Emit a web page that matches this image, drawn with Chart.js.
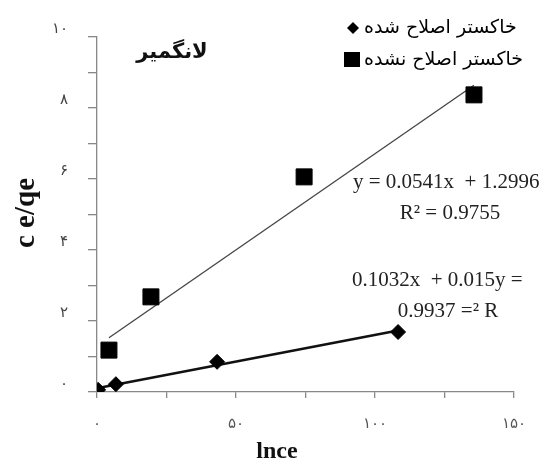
<!DOCTYPE html>
<html>
<head>
<meta charset="utf-8">
<script src="https://cdn.jsdelivr.net/npm/chart.js@4.4.0/dist/chart.umd.min.js"></script>
<style>
html, body { margin: 0; padding: 0; background: #fff; }
#wrap { width: 560px; height: 465px; position: relative; }
</style>
</head>
<body>
<div id="wrap"><canvas id="chart"></canvas></div>
<script>
// داده‌های نمودار
const legendLabels = ['خاکستر اصلاح شده', 'خاکستر اصلاح نشده'];
const modifiedX = [0.4, 6.8, 43.2, 108.3];
const modifiedY = [0.06, 0.22, 0.85, 1.69];
const unmodifiedX = [4.3, 19.4, 74.5, 135.6];
const unmodifiedY = [1.18, 2.68, 6.06, 8.37];

// دو سر خط روند، خوانده شده از تصویر
const modifiedTrendX = [0.4, 108.3];
const modifiedTrendY = [0.11, 1.73];
const unmodifiedTrendX = [4.3, 135.6];
const unmodifiedTrendY = [1.53, 8.64];

const yTickLabels = ['٠', '', '٢', '', '۴', '', '۶', '', '٨', '', '١٠'];
const xTickLabels = ['٠', '', '۵٠', '', '١٠٠', '', '١۵٠'];

const chartTitle = 'لانگمیر';
const xTitle = 'lnce';
const yTitle = 'c e/qe';
const eqUnmodified = ['y = 0.0541x  + 1.2996', 'R² = 0.9755'];
const eqModified = ['0.1032x  + 0.015y =', '0.9937 =² R'];

function toPoints(xs, ys) {
    return xs.map((x, i) => ({ x: x, y: ys[i] }));
}

// رسم عنوان‌ها، معادله‌ها و راهنما روی بوم
const textPlugin = {
    id: 'texts',
    afterDraw(chart) {
        const ctx = chart.ctx;
        ctx.save();
        ctx.fillStyle = '#111';
        ctx.textBaseline = 'middle';

        // عنوان
        ctx.font = 'bold 21px "DejaVu Sans"';
        ctx.textAlign = 'center';
        ctx.fillText(chartTitle, 172, 53);

        // عنوان محور x
        ctx.font = 'bold 24px "Liberation Serif"';
        ctx.fillText(xTitle, 277, 452);

        // عنوان محور y
        ctx.save();
        ctx.translate(27, 213);
        ctx.rotate(-Math.PI / 2);
        ctx.font = 'bold 29px "Liberation Serif"';
        ctx.fillText(yTitle, 0, 0);
        ctx.restore();

        // معادله‌ها
        ctx.font = '21px "Liberation Serif"';
        ctx.fillStyle = '#222';
        ctx.textAlign = 'left';
        ctx.fillText(eqUnmodified[0], 353, 182);
        ctx.textAlign = 'center';
        ctx.fillText(eqUnmodified[1], 450, 213);
        ctx.textAlign = 'left';
        ctx.fillText(eqModified[0], 352, 280);
        ctx.textAlign = 'center';
        ctx.fillText(eqModified[1], 448, 311);

        // راهنما
        ctx.fillStyle = '#000';
        ctx.beginPath();
        ctx.moveTo(353, 22);
        ctx.lineTo(359, 28);
        ctx.lineTo(353, 34);
        ctx.lineTo(347, 28);
        ctx.closePath();
        ctx.fill();
        ctx.fillRect(344, 52, 16, 15);

        ctx.font = '19px "DejaVu Sans"';
        ctx.textAlign = 'left';
        ctx.fillText(legendLabels[0], 364, 28);
        ctx.fillText(legendLabels[1], 364, 60);
        ctx.restore();
    }
};

const ctx = document.getElementById('chart').getContext('2d');
const chart = new Chart(ctx, {
    type: 'scatter',
    data: {
        datasets: [
            {
                label: legendLabels[0],
                data: toPoints(modifiedX, modifiedY),
                pointStyle: 'rectRot',
                pointRadius: 7.5,
                backgroundColor: '#000',
                borderColor: '#000',
                borderWidth: 1,
                order: 0
            },
            {
                label: legendLabels[1],
                data: toPoints(unmodifiedX, unmodifiedY),
                pointStyle: 'rect',
                pointRadius: 11.3,
                backgroundColor: '#000',
                borderColor: '#000',
                borderWidth: 1,
                order: 0
            },
            {
                label: 'trend1',
                type: 'line',
                data: toPoints(modifiedTrendX, modifiedTrendY),
                borderColor: '#111',
                borderWidth: 2.5,
                pointRadius: 0,
                fill: false,
                order: 1
            },
            {
                label: 'trend2',
                type: 'line',
                data: toPoints(unmodifiedTrendX, unmodifiedTrendY),
                borderColor: '#444',
                borderWidth: 1.3,
                pointRadius: 0,
                fill: false,
                order: 1
            }
        ]
    },
    options: {
        responsive: true,
        maintainAspectRatio: false,
        animation: false,
        layout: { padding: { left: 0, right: 46, top: 37, bottom: 0 } },
        plugins: {
            legend: { display: false },
            tooltip: { enabled: false }
        },
        scales: {
            x: {
                type: 'linear',
                min: 0,
                max: 150,
                afterFit(scale) { scale.height = 73; },
                border: { color: '#888', width: 1.3 },
                grid: { drawOnChartArea: false, color: '#888', tickLength: 6, lineWidth: 1.3 },
                ticks: {
                    stepSize: 25,
                    autoSkip: false,
                    maxRotation: 0,
                    padding: 17,
                    color: '#555',
                    font: { family: 'DejaVu Sans', size: 15 },
                    callback: (v, i) => xTickLabels[i]
                }
            },
            y: {
                type: 'linear',
                min: 0,
                max: 10,
                afterFit(scale) { scale.width = 97; },
                border: { color: '#888', width: 1.3 },
                grid: { drawOnChartArea: false, color: '#888', tickLength: 9, lineWidth: 1.3 },
                ticks: {
                    stepSize: 1,
                    autoSkip: false,
                    padding: 20,
                    labelOffset: -8,
                    color: '#444',
                    font: { family: 'DejaVu Sans', size: 15 },
                    callback: (v, i) => yTickLabels[i]
                }
            }
        }
    },
    plugins: [textPlugin]
});
</script>
</body>
</html>
